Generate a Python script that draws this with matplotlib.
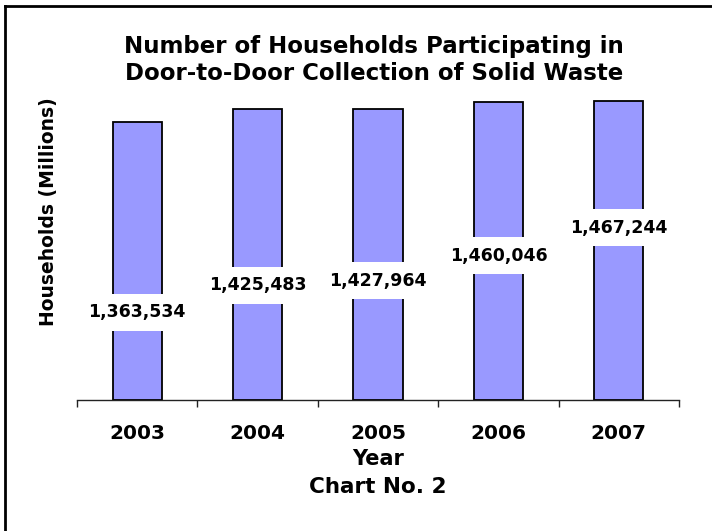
import matplotlib
matplotlib.use("Agg")
import matplotlib.pyplot as plt
from matplotlib.lines import Line2D

# Households participating in door-to-door solid waste collection
years = ["2003", "2004", "2005", "2006", "2007"]
households = [1363534, 1425483, 1427964, 1460046, 1467244]

# Height of each value label, as a fraction of its bar
label_frac = [0.315, 0.395, 0.41, 0.485, 0.575]

W, H, DPI = 712, 531, 100
FONT = "DejaVu Sans"
BAR_COLOR = "#9999FF"

fig = plt.figure(figsize=(W / DPI, H / DPI), dpi=DPI)
fig.patch.set_facecolor("white")

# plot area in pixel terms
left_px, right_px, base_px, top_px = 77, 679, 400, 73.6
ax = fig.add_axes([left_px / W, 1 - base_px / H,
                   (right_px - left_px) / W, (base_px - top_px) / H])
ax.set_facecolor("white")

x = list(range(len(years)))
ax.bar(x, households, width=0.41, color=BAR_COLOR, edgecolor="black",
       linewidth=1.3, zorder=2)

ax.set_xlim(-0.5, len(years) - 0.5)
ax.set_ylim(0, 1600000)

# value labels on white boxes across the bars
for xi, v, f in zip(x, households, label_frac):
    ax.text(xi, v * f, f"{v:,}", ha="center", va="center",
            fontsize=12.5, fontweight="bold", family=FONT, color="black",
            zorder=3,
            bbox=dict(boxstyle="square,pad=0.55", facecolor="white",
                      edgecolor="none"))

# category axis: tick marks on category boundaries, labels at centres
for s in ("left", "right", "top"):
    ax.spines[s].set_visible(False)
ax.spines["bottom"].set_color("#222222")
ax.spines["bottom"].set_linewidth(1.0)
ax.spines["bottom"].set_zorder(4)
ax.set_yticks([])
ax.set_xticks([i - 0.5 for i in range(len(years) + 1)])
ax.set_xticklabels([])
ax.tick_params(axis="x", which="major", direction="out", length=5,
               width=1.0, color="#222222")
ax.set_xticks(x, minor=True)
ax.set_xticklabels(years, minor=True, fontsize=14.5, fontweight="bold",
                   family=FONT)
ax.tick_params(axis="x", which="minor", length=0, pad=17)

# titles and axis captions
cx = 374 / W
fig.text(cx, 1 - 52.5 / H, "Number of Households Participating in",
         ha="center", va="baseline", fontsize=16.5, fontweight="bold",
         family=FONT)
fig.text(cx, 1 - 80.5 / H, "Door-to-Door Collection of Solid Waste",
         ha="center", va="baseline", fontsize=16.5, fontweight="bold",
         family=FONT)
fig.text(378 / W, 1 - 465 / H, "Year", ha="center", va="baseline",
         fontsize=15, fontweight="bold", family=FONT)
fig.text(378 / W, 1 - 493 / H, "Chart No. 2", ha="center", va="baseline",
         fontsize=15.5, fontweight="bold", family=FONT)
fig.text(48.5 / W, 1 - 212 / H, "Households (Millions)", ha="center",
         va="center", rotation=90, fontsize=13.5, fontweight="bold",
         family=FONT)

# chart frame along the top and left edges
fig.add_artist(Line2D([4.5 / W, 4.5 / W], [0, 1 - 6 / H],
                      transform=fig.transFigure, color="black", lw=2.0))
fig.add_artist(Line2D([4.5 / W, 1], [1 - 6 / H, 1 - 6 / H],
                      transform=fig.transFigure, color="black", lw=2.0))

fig.savefig("out.png", dpi=DPI, facecolor="white")
